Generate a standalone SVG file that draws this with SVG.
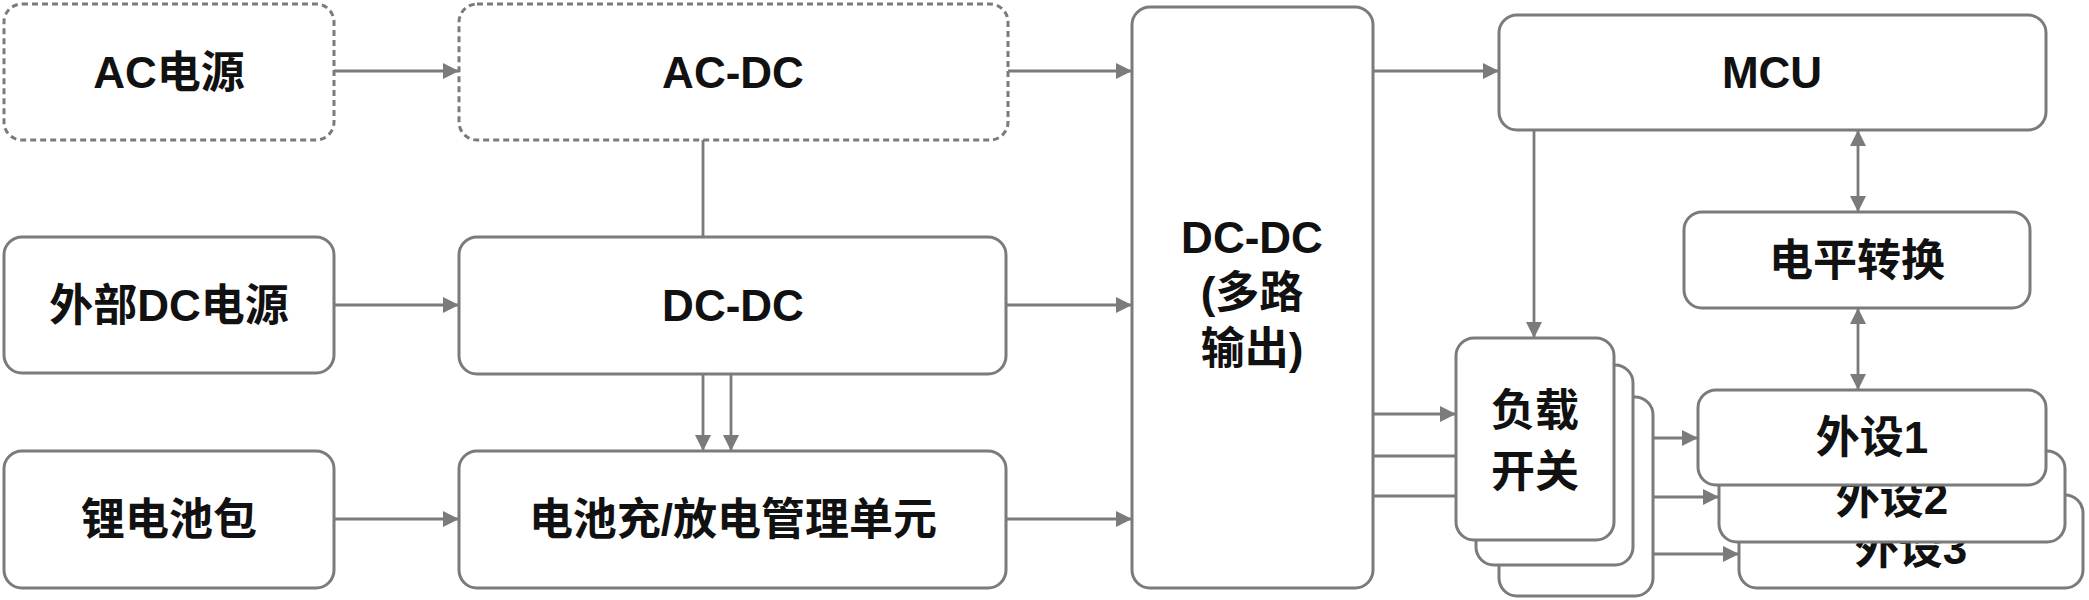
<svg xmlns="http://www.w3.org/2000/svg" width="2089" height="600" viewBox="0 0 2089 600">
<defs>
<marker id="arr" viewBox="0 0 16 16" refX="16" refY="8" markerWidth="16" markerHeight="16" markerUnits="userSpaceOnUse" orient="auto-start-reverse">
<path d="M0,0 L16,8 L0,16 z" fill="#7b7b7b"/>
</marker>
<style>
.box{fill:#fff;stroke:#7b7b7b;stroke-width:3}
.dash{stroke-dasharray:6 4}
.t{font-family:"Liberation Sans","Noto Sans CJK SC",sans-serif;font-weight:bold;font-size:44px;fill:#111;text-anchor:middle}
.c{fill:none;stroke:#7b7b7b;stroke-width:2.8}
</style>
</defs>
<rect width="2089" height="600" fill="#fff"/>
<g id="connectors">
<path class="c" d="M334,71 H459" marker-end="url(#arr)"/>
<path class="c" d="M703,140 V237"/>
<path class="c" d="M334,305 H459" marker-end="url(#arr)"/>
<path class="c" d="M334,519 H459" marker-end="url(#arr)"/>
<path class="c" d="M703,374 V451" marker-end="url(#arr)"/>
<path class="c" d="M731,374 V451" marker-end="url(#arr)"/>
<path class="c" d="M1008,71 H1132" marker-end="url(#arr)"/>
<path class="c" d="M1006,305 H1132" marker-end="url(#arr)"/>
<path class="c" d="M1006,519 H1132" marker-end="url(#arr)"/>
<path class="c" d="M1373,71 H1499" marker-end="url(#arr)"/>
<path class="c" d="M1534,130 V338" marker-end="url(#arr)"/>
<path class="c" d="M1858,130 V212" marker-start="url(#arr)" marker-end="url(#arr)"/>
<path class="c" d="M1858,308 V390" marker-start="url(#arr)" marker-end="url(#arr)"/>
<path class="c" d="M1373,414 H1456" marker-end="url(#arr)"/>
<path class="c" d="M1373,456 H1476" marker-end="url(#arr)"/>
<path class="c" d="M1373,496 H1499" marker-end="url(#arr)"/>
<path class="c" d="M1614,438 H1698" marker-end="url(#arr)"/>
<path class="c" d="M1633,497 H1719" marker-end="url(#arr)"/>
<path class="c" d="M1653,554 H1739" marker-end="url(#arr)"/>
</g>
<g id="ac-power"><rect class="box dash" x="4" y="4" width="330" height="136" rx="18"/><text class="t" x="169" y="88">AC电源</text></g>
<g id="ac-dc"><rect class="box dash" x="459" y="4" width="549" height="136" rx="18"/><text class="t" x="733" y="88">AC-DC</text></g>
<g id="ext-dc"><rect class="box" x="4" y="237" width="330" height="136" rx="18"/><text class="t" x="169" y="321">外部DC电源</text></g>
<g id="dc-dc"><rect class="box" x="459" y="237" width="547" height="137" rx="18"/><text class="t" x="733" y="321">DC-DC</text></g>
<g id="li-battery"><rect class="box" x="4" y="451" width="330" height="137" rx="18"/><text class="t" x="169" y="535">锂电池包</text></g>
<g id="bms"><rect class="box" x="459" y="451" width="547" height="137" rx="18"/><text class="t" x="733" y="535">电池充/放电管理单元</text></g>
<g id="dc-dc-multi"><rect class="box" x="1132" y="7" width="241" height="581" rx="18"/>
<text class="t" x="1252" y="253">DC-DC</text><text class="t" x="1252" y="308">(多路</text><text class="t" x="1252" y="364">输出)</text></g>
<g id="mcu"><rect class="box" x="1499" y="15" width="547" height="115" rx="18"/><text class="t" x="1772" y="88">MCU</text></g>
<g id="level-shift"><rect class="box" x="1684" y="212" width="346" height="96" rx="18"/><text class="t" x="1857" y="276">电平转换</text></g>
<g id="load-switch">
<rect class="box" x="1499" y="397" width="154" height="199" rx="18"/>
<rect class="box" x="1476" y="365" width="157" height="200" rx="18"/>
<rect class="box" x="1456" y="338" width="158" height="202" rx="18"/>
<text class="t" x="1535" y="426">负载</text><text class="t" x="1535" y="487">开关</text></g>
<g id="periph3"><rect class="box" x="1739" y="495" width="344" height="93" rx="18"/><text class="t" x="1911" y="564">外设3</text></g>
<g id="periph2"><rect class="box" x="1719" y="451" width="346" height="91" rx="18"/><text class="t" x="1892" y="514">外设2</text></g>
<g id="periph1"><rect class="box" x="1698" y="390" width="348" height="95" rx="18"/><text class="t" x="1872" y="453">外设1</text></g>
</svg>
